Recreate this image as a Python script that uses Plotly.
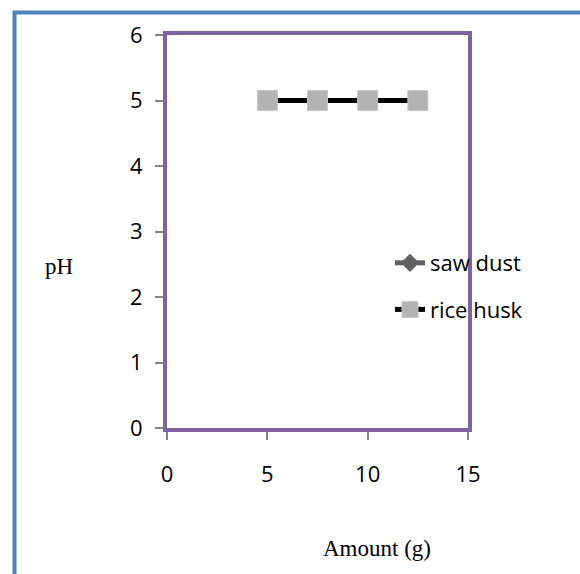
import plotly.graph_objects as go

amount = [5, 7.5, 10, 12.5]
saw_dust = [5, 5, 5, 5]
rice_husk = [5, 5, 5, 5]
x_ticks = [0, 5, 10, 15]
y_ticks = [0, 1, 2, 3, 4, 5, 6]

W, H = 580, 574
L, R, T, B = 167, 112, 35, 146
pw, ph = W - L - R, H - T - B

def px2x(p):
    return (p - L) / pw

def py2y(p):
    return (H - B - p) / ph

sans = "Open Sans"
fig = go.Figure()
fig.add_trace(go.Scatter(
    x=amount, y=saw_dust, name="saw dust", mode="lines+markers",
    line=dict(color="#606060", width=5),
    marker=dict(symbol="diamond", size=14, color="#606060"),
    legendgroup="a",
))
fig.add_trace(go.Scatter(
    x=amount, y=rice_husk, name="rice husk", mode="lines+markers",
    line=dict(color="#000000", width=5),
    marker=dict(symbol="square", size=20, color="#B3B3B3",
                line=dict(color="#C8C8C8", width=1)),
    legendgroup="b",
))

fig.update_layout(
    width=W, height=H,
    margin=dict(l=L, r=R, t=T, b=B),
    paper_bgcolor="white", plot_bgcolor="white",
    font=dict(family=sans, size=22, color="black"),
    showlegend=True,
    legend=dict(x=px2x(390), y=py2y(242), xanchor="left", yanchor="top",
                bgcolor="rgba(0,0,0,0)", font=dict(family=sans, size=22, color="black"),
                traceorder="grouped", tracegroupgap=15),
    xaxis=dict(range=[0, 15], tickvals=x_ticks, showgrid=False, zeroline=False,
               showline=True, mirror=True, linecolor="#8064A2", linewidth=4,
               ticks="outside", ticklen=8, tickwidth=1.5, tickcolor="#868686",
               ticklabelstandoff=16, tickfont=dict(family=sans, size=22)),
    yaxis=dict(range=[0, 6], tickvals=y_ticks, showgrid=False, zeroline=False,
               showline=True, mirror=True, linecolor="#8064A2", linewidth=4,
               ticks="outside", ticklen=8, tickwidth=1.5, tickcolor="#868686",
               ticklabelstandoff=8, tickfont=dict(family=sans, size=22)),
    shapes=[dict(type="rect", xref="paper", yref="paper",
                 x0=px2x(14.5), x1=px2x(620), y0=py2y(620), y1=py2y(12.5),
                 line=dict(color="#4F81BD", width=4), fillcolor="rgba(0,0,0,0)",
                 layer="below")],
    annotations=[
        dict(text="pH", xref="paper", yref="paper", x=px2x(59), y=py2y(266),
             showarrow=False, xanchor="center", yanchor="middle",
             font=dict(family="Liberation Serif", size=23, color="black")),
        dict(text="Amount (g)", xref="paper", yref="paper", x=px2x(377), y=py2y(548),
             showarrow=False, xanchor="center", yanchor="middle",
             font=dict(family="Liberation Serif", size=23, color="black")),
    ],
)

fig.write_html("out.html")
